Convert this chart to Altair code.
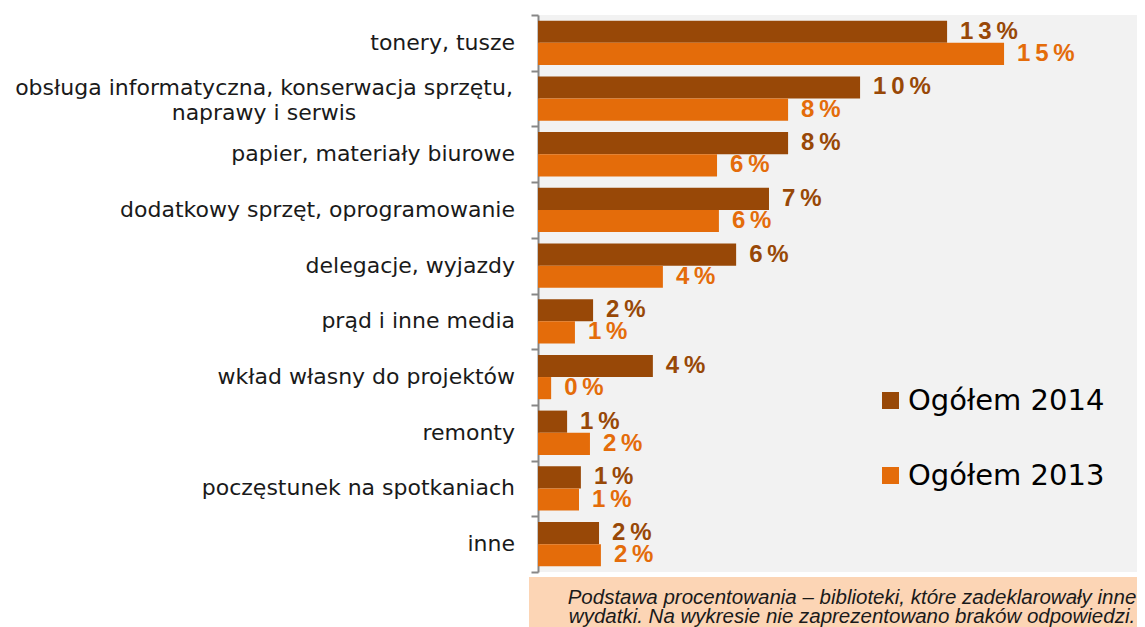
import altair as alt
import pandas as pd

categories = [
    "tonery, tusze",
    "obsługa informatyczna, konserwacja sprzętu,|naprawy i serwis",
    "papier, materiały biurowe",
    "dodatkowy sprzęt, oprogramowanie",
    "delegacje, wyjazdy",
    "prąd i inne media",
    "wkład własny do projektów",
    "remonty",
    "poczęstunek na spotkaniach",
    "inne",
]
series = ["Ogółem 2014", "Ogółem 2013"]
values_2014 = [13.07, 10.29, 7.99, 7.38, 6.33, 1.76, 3.67, 0.93, 1.37, 1.95]
values_2013 = [14.89, 7.99, 5.72, 5.78, 3.99, 1.18, 0.42, 1.66, 1.31, 2.01]
labels_2014 = ["13%", "10%", "8%", "7%", "6%", "2%", "4%", "1%", "1%", "2%"]
labels_2013 = ["15%", "8%", "6%", "6%", "4%", "1%", "0%", "2%", "1%", "2%"]
colors = ["#984807", "#E46C0A"]
footnote = [
    "Podstawa procentowania – biblioteki, które zadeklarowały inne",
    "wydatki. Na wykresie nie zaprezentowano braków odpowiedzi.",
]

rows = []
for c, v1, v2, l1, l2 in zip(categories, values_2014, values_2013, labels_2014, labels_2013):
    rows.append({"category": c, "series": series[0], "value": v1, "label": "\u2009".join(l1)})
    rows.append({"category": c, "series": series[1], "value": v2, "label": "\u2009".join(l2)})
df = pd.DataFrame(rows)
cat_df = pd.DataFrame({"category": categories, "multi": ["|" in c for c in categories]})

W, H = 599, 557

y_scale = alt.Scale(paddingInner=0, paddingOuter=0)
y_enc = alt.Y(
    "category:N",
    sort=categories,
    scale=y_scale,
    axis=alt.Axis(
        title=None,
        labels=False,
        tickBand="extent",
        tickSize=7,
        tickWidth=2,
        tickColor="#878787",
        domainColor="#878787",
        domainWidth=2,
        grid=False,
    ),
)
yoff = alt.YOffset("series:N", sort=series, scale=alt.Scale(paddingInner=0, paddingOuter=0.257))
x_enc = alt.X("value:Q", scale=alt.Scale(domain=[0, W / 31.3], nice=False, zero=True), axis=None)
color_scale = alt.Scale(domain=series, range=colors)

base = alt.Chart(df)

bars = base.mark_bar().encode(
    y=y_enc,
    yOffset=yoff,
    x=x_enc,
    color=alt.Color(
        "series:N",
        scale=color_scale,
        sort=series,
        legend=alt.Legend(
            title=None,
            orient="none",
            legendX=338,
            legendY=371,
            symbolType="square",
            symbolSize=289,
            symbolStrokeWidth=0,
            labelFont="DejaVu Sans",
            labelFontSize=29,
            labelColor="#000000",
            labelOffset=3,
            rowPadding=45,
            padding=0,
            labelLimit=0,
        ),
    ),
)

texts = base.mark_text(
    align="left", baseline="middle", dx=13, font="Liberation Sans", fontSize=24, fontWeight="bold"
).encode(
    y=alt.Y("category:N", sort=categories),
    yOffset=alt.YOffset("series:N", sort=series),
    x=alt.X("value:Q"),
    text="label:N",
    color=alt.Color("series:N", scale=color_scale, legend=None),
)

cat_base = alt.Chart(cat_df)
cat_single = cat_base.transform_filter("!datum.multi").mark_text(
    align="right", baseline="middle", font="DejaVu Sans", fontSize=22, color="#1a1a1a"
).encode(
    y=alt.Y("category:N", sort=categories),
    x=alt.value(-23),
    text="category:N",
)
cat_multi = cat_base.transform_filter("datum.multi").mark_text(
    align="center", baseline="middle", font="DejaVu Sans", fontSize=22, color="#1a1a1a",
    lineBreak="|", lineHeight=25, dy=-11,
).encode(
    y=alt.Y("category:N", sort=categories),
    x=alt.value(-274),
    text="category:N",
)

note_df = pd.DataFrame({"t": [footnote]})
note_box = alt.Chart(note_df).mark_rect(color="#FCD5B5").encode(
    x=alt.value(-9), x2=alt.value(W + 10), y=alt.value(H + 5), y2=alt.value(H + 80)
)
note_text = alt.Chart(note_df).mark_text(
    align="center", baseline="alphabetic", font="Liberation Sans", fontStyle="italic",
    fontSize=20.5, lineHeight=19, color="#1a1a1a",
).encode(text="t", x=alt.value(314), y=alt.value(H + 32))

chart = alt.layer(bars, texts, cat_single, cat_multi, note_box, note_text).properties(
    width=W,
    height=H,
    autosize=alt.AutoSizeParams(type="none"),
    padding={"left": 530, "top": 7, "right": 0, "bottom": 55},
).configure_view(fill="#F2F2F2", stroke=None)

chart.save("out.html", embed_options={"renderer": "svg", "actions": False})
